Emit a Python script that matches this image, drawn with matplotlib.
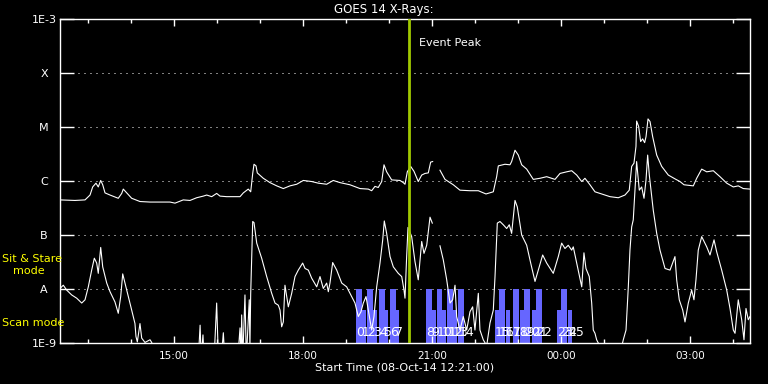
import numpy as np
import matplotlib
matplotlib.use("Agg")
import matplotlib.pyplot as plt
from matplotlib.ticker import FixedLocator, NullLocator

# ---------------- data (minutes since 08-Oct-14 12:21:00, log10 flux W/m^2) -------------
long_t = [0, 20.9, 34.9, 41.9, 45.6, 50.2, 53.4, 56.8, 59.6, 62.8, 69.8, 81.3, 86.1, 88.3, 93.1,
          100.0, 111.6, 125.6, 139.5, 153.5, 160.5, 172.0, 181.4, 190.7, 199.9, 204.7, 211.7,
          218.6, 223.3, 232.6, 237.2, 251.2, 255.8, 262.7, 266.1, 268.9, 270.7, 273.5, 275.3,
          283.7, 293.0, 302.4, 311.6, 320.9, 330.3, 339.5, 351.2, 360.4, 372.1, 381.3, 390.7,
          404.6, 418.6, 430.2, 434.9, 439.5, 444.1, 448.9, 452.1, 455.8, 462.8, 474.4, 479.0,
          481.4, 484.6, 489.3, 493.9, 499.9, 504.7, 509.3, 513.9, 517.2, 520.0, 525.0,
          530.2, 537.2, 548.8, 558.1, 572.1, 583.7, 594.4, 604.6, 609.3, 611.6, 620.9, 627.9,
          630.2, 634.9, 639.5, 644.2, 651.2, 660.4, 669.7, 679.1, 690.7, 697.7, 707.0, 714.0,
          721.0, 728.0, 732.5, 739.5, 746.5, 758.1, 767.4, 779.0, 788.3, 794.3, 797.7, 800.9,
          803.7, 804.6, 807.4, 810.2, 813.0, 815.8, 817.7, 820.5, 823.3, 827.0, 832.6, 839.6,
          848.8, 858.1, 865.1, 870.7, 883.7, 888.4, 895.4, 902.4, 911.6, 920.9, 930.3, 939.5,
          946.4, 953.4, 962.8]
long_logf = [-6.35, -6.36, -6.35, -6.26, -6.11, -6.04, -6.11, -5.99, -6.07, -6.22, -6.26, -6.32,
             -6.23, -6.15, -6.22, -6.32, -6.38, -6.39, -6.39, -6.39, -6.41, -6.35, -6.36, -6.31,
             -6.28, -6.26, -6.29, -6.23, -6.28, -6.29, -6.29, -6.29, -6.22, -6.15, -6.20, -5.86,
             -5.69, -5.72, -5.85, -5.95, -6.03, -6.09, -6.14, -6.09, -6.06, -5.99, -6.01, -6.04,
             -6.06, -5.99, -6.03, -6.07, -6.14, -6.15, -6.18, -6.10, -6.12, -6.01, -5.70, -5.83,
             -5.98, -5.99, -6.03, -6.06, -5.83, -5.73, -5.82, -6.01, -5.89, -5.86, -5.85, -5.65,
             -5.64, np.nan,
             -5.80, -5.97, -6.07, -6.17, -6.18, -6.18, -6.24, -6.20, -5.92, -5.72, -5.69, -5.70,
             -5.64, -5.43, -5.52, -5.70, -5.78, -5.97, -5.95, -5.92, -5.97, -5.86, -5.83, -5.81,
             -5.89, -6.01, -5.95, -6.07, -6.20, -6.25, -6.29, -6.31, -6.26, -6.17, -5.73, -5.67,
             -5.36, -4.89, -4.99, -5.27, -5.22, -5.29, -5.18, -4.85, -4.90, -5.18, -5.52, -5.73,
             -5.89, -5.96, -6.01, -6.07, -6.09, -5.95, -5.78, -5.83, -5.81, -5.92, -6.04, -6.11,
             -6.09, -6.14, -6.15]

short_t = [0, 4.6, 9.3, 16.3, 23.3, 30.3, 34.9, 39.5, 44.2, 47.9, 51.2, 53.4, 56.8, 59.6, 65.2,
           69.8, 76.7, 81.3, 84.7, 87.5, 90.7, 95.3, 100.0, 104.6, 106.0, 107.9, 111.6, 114.0,
           118.6, 125.6, 128.0, 132.0, 193.0, 195.5, 197.0, 199.5, 201.0, 215.0, 218.6, 221.0,
           225.0, 227.9, 230.0, 248.0, 251.2, 252.5, 253.5, 255.0, 258.1, 260.0, 264.1, 265.0,
           266.1, 268.9, 270.7, 274.5, 281.4, 288.4, 295.4, 300.0, 304.6, 307.0, 309.3, 311.6,
           313.9, 318.6, 323.3, 327.9, 332.5, 338.6, 341.9, 346.5, 351.2, 358.2, 362.8, 367.4,
           372.1, 374.4, 376.7, 380.5, 386.1, 393.1, 400.0, 404.6, 411.6, 416.2, 420.0, 423.2,
           427.0, 430.2, 434.9, 438.1, 441.9, 446.5, 450.3, 452.5, 455.8, 460.5, 465.1, 472.0,
           476.8, 480.0, 481.4, 483.7, 485.6, 490.7, 495.3, 499.9, 504.7, 507.9, 511.7, 516.3,
           519.5, 525.0,
           530.2, 534.8, 539.6, 544.2, 547.9, 551.2, 553.5, 558.1, 562.7, 567.5, 572.1, 575.8,
           579.0, 583.7, 586.0, 590.6, 595.4, 600.0, 604.6, 607.0, 610.2, 613.9, 618.5, 623.3,
           626.9, 630.2, 634.9, 638.1, 644.2, 651.2, 656.8, 662.8, 667.4, 673.5, 679.1, 688.3,
           695.3, 700.0, 704.6, 709.2, 714.0, 716.2, 721.0, 728.0, 731.1, 733.9, 738.5, 741.9,
           744.1, 746.5, 748.8, 751.1, 761.3, 781.4, 786.0, 789.8, 793.0, 795.3, 797.7, 799.9,
           802.3, 804.6, 808.3, 811.6, 814.9, 817.7, 820.0, 822.3, 827.8, 832.6, 837.2, 844.2,
           851.2, 858.1, 860.5, 864.1, 868.9, 872.1, 876.7, 881.4, 884.6, 887.4, 890.6, 895.4,
           902.4, 907.0, 912.6, 916.3, 923.3, 930.3, 934.9, 939.5, 941.9, 946.4, 951.2, 954.4,
           957.2, 960.4, 962.8]
short_logf = [-7.99, -7.93, -8.02, -8.11, -8.17, -8.26, -8.20, -7.96, -7.65, -7.43, -7.52, -7.71,
              -7.23, -7.59, -7.89, -8.05, -8.24, -8.45, -8.14, -7.72, -7.89, -8.14, -8.39, -8.64,
              -8.88, -8.98, -8.64, -8.91, -8.99, -8.94, -8.99, -9.30, -9.30, -8.67, -9.30, -8.85,
              -9.30, -9.30, -8.26, -9.30, -9.30, -8.81, -9.30, -9.30, -8.72, -9.30, -8.48, -9.30,
              -8.11, -9.30, -8.20, -9.10, -8.08, -6.75, -6.77, -7.15, -7.43, -7.77, -8.08, -8.26,
              -8.30, -8.39, -8.70, -8.61, -7.93, -8.33, -8.08, -7.77, -7.65, -7.52, -7.62, -7.65,
              -7.80, -7.96, -7.77, -7.99, -7.89, -8.05, -7.89, -7.51, -7.65, -7.89, -7.96, -8.08,
              -8.26, -8.51, -8.42, -8.26, -8.14, -8.39, -8.76, -8.51, -7.96, -7.52, -7.09, -6.74,
              -6.97, -7.40, -7.59, -7.71, -7.77, -8.02, -8.17, -7.40, -6.86, -7.03, -7.49, -7.83,
              -7.12, -7.34, -7.19, -6.67, -6.78, np.nan,
              -7.20, -7.46, -7.83, -8.26, -8.20, -7.93, -8.51, -8.76, -8.51, -8.76, -8.42, -8.33,
              -8.76, -8.08, -8.76, -8.94, -9.05, -8.63, -8.39, -7.77, -6.78, -6.75, -6.81, -6.88,
              -6.81, -6.97, -6.36, -6.48, -7.00, -7.19, -7.52, -7.86, -7.65, -7.37, -7.52, -7.71,
              -7.40, -7.15, -7.25, -7.19, -7.28, -7.22, -7.52, -7.96, -7.33, -7.62, -7.77, -8.26,
              -8.76, -8.82, -8.94, -9.00, -9.20, -9.20, -8.94, -8.76, -7.96, -7.28, -6.85, -6.72,
              -6.17, -5.64, -6.17, -6.11, -6.32, -5.98, -5.52, -5.89, -6.54, -6.97, -7.28, -7.62,
              -7.65, -7.40, -7.83, -8.20, -8.39, -8.61, -8.26, -8.02, -8.20, -7.83, -7.28, -7.03,
              -7.22, -7.37, -7.09, -7.31, -7.65, -8.02, -8.36, -8.76, -8.82, -8.20, -8.57, -8.94,
              -8.36, -8.57, -8.51]

# observation bars: start (min), kind (1 = tall, 0 = short)
bar_start = [413.0, 421.4, 428.4, 436.7, 445.1, 452.1, 460.5, 467.4,
             510.7, 518.6, 525.6, 533.0, 540.4, 547.9, 555.8,
             607.0, 612.5, 622.3, 632.1, 641.9, 647.4, 658.6, 664.2, 693.5, 699.5, 709.0]
bar_kind = [1, 0, 1, 0, 1, 0, 1, 0,
            1, 0, 1, 0, 1, 0, 1,
            0, 1, 0, 1, 0, 1, 0, 1, 0, 1, 0]
bar_labels = [str(i) for i in range(len(bar_start))]

event_peak = 487.0
xmajor = [159, 339, 519, 699, 879]
xmajor_labels = ["15:00", "18:00", "21:00", "00:00", "03:00"]
xminor = [39, 99, 219, 279, 399, 459, 579, 639, 759, 819, 939]
ytick_vals = [1e-9, 1e-8, 1e-7, 1e-6, 1e-5, 1e-4, 1e-3]
ytick_labels = ["1E-9", "A", "B", "C", "M", "X", "1E-3"]

# ---------------- figure ----------------
fig = plt.figure(figsize=(7.68, 3.84), dpi=100, facecolor="black")
ax = fig.add_axes([60 / 768, 41 / 384, 690 / 768, 324 / 384], facecolor="black")
ax.set_yscale("log")
ax.set_xlim(0, 962.8)
ax.set_ylim(1e-9, 1e-3)

blue = "#6666ff"
for s, k in zip(bar_start, bar_kind):
    top = 1e-8 if k else 4.1e-9
    w = 7.8 if k else 5.6
    ax.bar(s, top - 1e-9, bottom=1e-9, width=w, align="edge", color=blue, zorder=1, linewidth=0)
for s, lab in zip(bar_start, bar_labels):
    ax.text(s, 1.55e-9, lab, color="white", fontsize=9, ha="left", va="center", zorder=4)

ax.plot(long_t, 10 ** np.array(long_logf), color="white", lw=0.8, zorder=3)
ax.plot(short_t, 10 ** np.array(short_logf), color="white", lw=0.8, zorder=3)

ax.axvline(event_peak, color="#a0c800", lw=2.0, zorder=5)
ax.text(event_peak + 14, 3.6e-4, "Event Peak", color="white", fontsize=8, ha="left", va="center")

for v in ytick_vals[1:-1]:
    ax.axhline(v, color="white", lw=0.72, linestyle=(0, (1, 5)), zorder=0.5)

ax.yaxis.set_major_locator(FixedLocator(ytick_vals))
ax.yaxis.set_minor_locator(NullLocator())
ax.set_yticklabels(ytick_labels)
ax.tick_params(axis="y", which="major", direction="in", length=10, width=1.0,
               left=True, right=True, colors="white", labelsize=8, pad=11.5)
for lbl in ax.get_yticklabels():
    lbl.set_horizontalalignment("center")

ax.xaxis.set_major_locator(FixedLocator(xmajor))
ax.xaxis.set_minor_locator(FixedLocator(xminor))
ax.set_xticklabels(xmajor_labels)
ax.tick_params(axis="x", which="major", direction="in", length=5, width=1.0,
               top=True, bottom=True, colors="white", labelsize=7.5, pad=6)
ax.tick_params(axis="x", which="minor", direction="in", length=3, width=1.0,
               top=True, bottom=True, colors="white")

for sp in ax.spines.values():
    sp.set_color("white")
    sp.set_linewidth(1.0)

fig.text(384 / 768, 1 - 9 / 384, "GOES 14 X-Rays:", color="white", fontsize=8.5,
         ha="center", va="center")
fig.text(405 / 768, 1 - 368 / 384, "Start Time (08-Oct-14 12:21:00)", color="white",
         fontsize=8, ha="center", va="center")
fig.text(2 / 768, 1 - 259 / 384, "Sit & Stare", color="yellow", fontsize=8, ha="left", va="center")
fig.text(13 / 768, 1 - 271 / 384, "mode", color="yellow", fontsize=8, ha="left", va="center")
fig.text(2 / 768, 1 - 323 / 384, "Scan mode", color="yellow", fontsize=8, ha="left", va="center")

fig.savefig("out.png", dpi=100, facecolor="black")
